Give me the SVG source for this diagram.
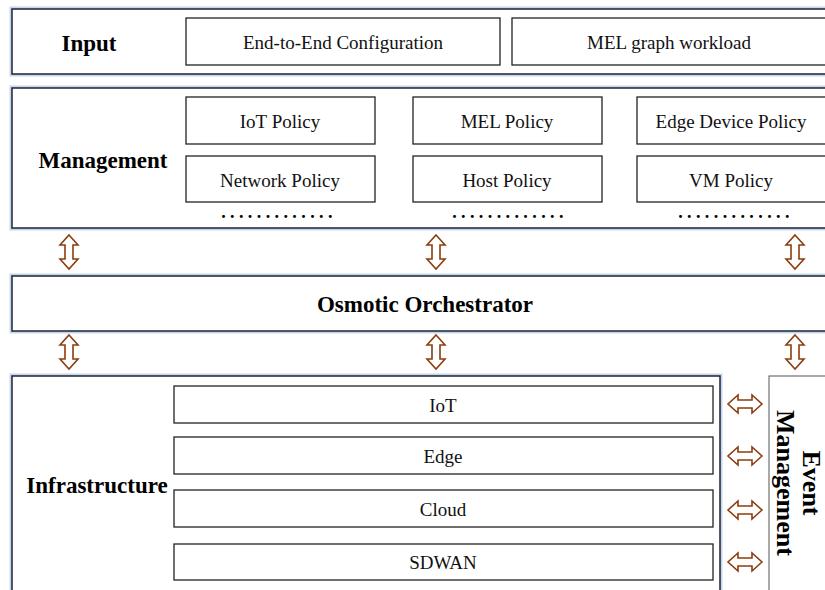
<svg xmlns="http://www.w3.org/2000/svg" width="825" height="590" viewBox="0 0 825 590">
<style>
.glow{fill:none;stroke:#c6d6ec;stroke-width:5}
.panel{fill:#fff;stroke:#1c2533;stroke-width:1.5}
.box{fill:#fff;stroke:#222;stroke-width:1.3}
.ev{fill:#fff;stroke:#555;stroke-width:1}
.lbl{font-family:"Liberation Serif",serif;font-size:19px;fill:#111;text-anchor:middle;dominant-baseline:central}
.hd{font-family:"Liberation Serif",serif;font-size:23px;font-weight:bold;fill:#000;text-anchor:middle;dominant-baseline:central}
.evt{font-family:"Liberation Serif",serif;font-size:26px;font-weight:bold;fill:#000;text-anchor:middle;dominant-baseline:central}
.dots{font-family:"Liberation Serif",serif;font-size:18px;font-weight:bold;fill:#000;text-anchor:middle;letter-spacing:4.4px}
.arr{fill:#fff;stroke:#8b3e10;stroke-width:1.6;stroke-linejoin:miter}
</style>
<defs>
<path id="va" d="M0,-17 L9,-7 L4,-7 L4,7 L9,7 L0,17 L-9,7 L-4,7 L-4,-7 L-9,-7 Z"/>
</defs>
<g id="input">
<rect class="glow" x="12" y="9" width="830" height="65"/>
<rect class="panel" x="12" y="9" width="830" height="65"/>
<text class="hd" x="89" y="43">Input</text>
</g>
<g id="e2e"><rect class="box" x="186" y="18" width="314" height="47"/><text class="lbl" x="343" y="42">End-to-End Configuration</text></g>
<g id="melgraph"><rect class="box" x="512" y="18" width="330" height="47"/><text class="lbl" x="669" y="42">MEL graph workload</text></g>

<g id="management">
<rect class="glow" x="12" y="88" width="830" height="140"/>
<rect class="panel" x="12" y="88" width="830" height="140"/>
<text class="hd" x="103" y="160">Management</text>
<text class="dots" x="279" y="218">.............</text>
<text class="dots" x="510" y="218">.............</text>
<text class="dots" x="736" y="218">.............</text>
</g>
<g id="iotpolicy"><rect class="box" x="186" y="97" width="189" height="47"/><text class="lbl" x="280" y="121">IoT Policy</text></g>
<g id="melpolicy"><rect class="box" x="413" y="97" width="189" height="47"/><text class="lbl" x="507" y="121">MEL Policy</text></g>
<g id="edgepolicy"><rect class="box" x="637" y="97" width="200" height="47"/><text class="lbl" x="731" y="121">Edge Device Policy</text></g>
<g id="netpolicy"><rect class="box" x="186" y="156" width="189" height="46"/><text class="lbl" x="280" y="180">Network Policy</text></g>
<g id="hostpolicy"><rect class="box" x="413" y="156" width="189" height="46"/><text class="lbl" x="507" y="180">Host Policy</text></g>
<g id="vmpolicy"><rect class="box" x="637" y="156" width="200" height="46"/><text class="lbl" x="731" y="180">VM Policy</text></g>

<g id="orchestrator">
<rect class="glow" x="12" y="276" width="830" height="55"/>
<rect class="panel" x="12" y="276" width="830" height="55"/>
<text class="hd" x="425" y="304">Osmotic Orchestrator</text>
</g>

<g id="infrastructure">
<rect class="glow" x="12" y="376" width="708" height="230"/>
<rect class="panel" x="12" y="376" width="708" height="230"/>
<text class="hd" x="97" y="485">Infrastructure</text>
</g>
<g id="iot"><rect class="box" x="174" y="386" width="539" height="37"/><text class="lbl" x="443" y="405">IoT</text></g>
<g id="edge"><rect class="box" x="174" y="437" width="539" height="37"/><text class="lbl" x="443" y="456">Edge</text></g>
<g id="cloud"><rect class="box" x="174" y="490" width="539" height="37"/><text class="lbl" x="443" y="509">Cloud</text></g>
<g id="sdwan"><rect class="box" x="174" y="544" width="539" height="36"/><text class="lbl" x="443" y="562">SDWAN</text></g>

<g id="event">
<rect class="ev" x="769" y="376" width="70" height="230"/>
<text class="evt" transform="translate(811,483) rotate(90)">Event</text>
<text class="evt" transform="translate(785,483) rotate(90)">Management</text>
</g>

<g id="connectors">
<use href="#va" class="arr" x="69" y="252"/>
<use href="#va" class="arr" x="436" y="252"/>
<use href="#va" class="arr" x="795" y="252"/>
<use href="#va" class="arr" x="69" y="352"/>
<use href="#va" class="arr" x="436" y="352"/>
<use href="#va" class="arr" x="795" y="352"/>
<use href="#va" class="arr" transform="translate(745,404) rotate(90)"/>
<use href="#va" class="arr" transform="translate(745,456) rotate(90)"/>
<use href="#va" class="arr" transform="translate(745,510) rotate(90)"/>
<use href="#va" class="arr" transform="translate(745,562) rotate(90)"/>
</g>
</svg>
